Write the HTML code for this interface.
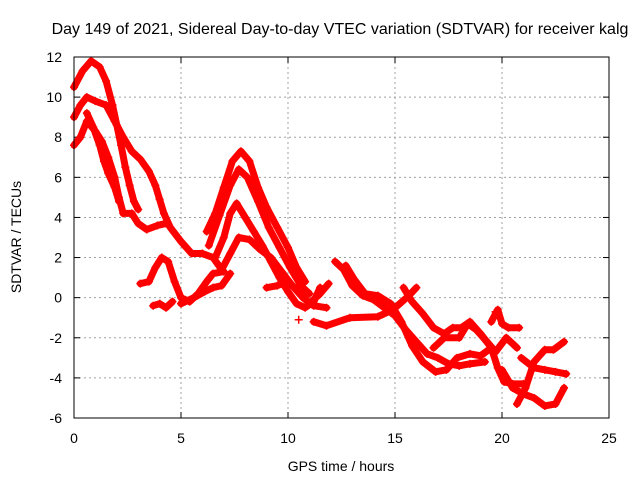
<!DOCTYPE html>
<html><head><meta charset="utf-8"><style>
body{margin:0;background:#fff}
svg text{font-family:"Liberation Sans",sans-serif;font-size:14px;fill:#000}
</style></head><body>
<svg id="chart" width="640" height="480" xmlns="http://www.w3.org/2000/svg">
<rect width="640" height="480" fill="#fff"/>
<text x="340" y="34" text-anchor="middle" style="font-size:16px">Day 149 of 2021, Sidereal Day-to-day VTEC variation (SDTVAR) for receiver kalg</text>
<text x="341" y="471" text-anchor="middle">GPS time / hours</text>
<text transform="translate(21,237) rotate(-90)" text-anchor="middle">SDTVAR / TECUs</text>
<g id="grid"></g><g id="ticks"></g><g id="marks"></g>
<rect x="74" y="57" width="535" height="361" fill="none" stroke="#000" stroke-width="1"/>
</svg>
<script>
const xTicks=[0,5,10,15,20,25];
const yTicks=[-6,-4,-2,0,2,4,6,8,10,12];
const trackA=[[0,10.5],[0.4,11.3],[0.8,11.8],[1.2,11.5],[1.5,10.8],[1.8,9.6],[2.0,8.6],[2.2,7.6],[2.4,6.5],[2.6,5.6],[2.8,4.8],[3.0,4.4]];
const trackB=[[0,9.0],[0.3,9.6],[0.6,10.0],[1.0,9.8],[1.5,9.6],[1.9,8.8],[2.3,8.0],[2.7,7.3],[3.1,6.9],[3.5,6.3],[3.8,5.6],[4.0,4.9],[4.2,4.2],[4.5,3.5],[5.0,2.8],[5.5,2.2],[6.0,2.2],[6.5,2.0],[6.9,1.4],[7.3,2.2],[7.7,3.0],[8.2,2.9],[8.7,2.4],[9.2,2.0],[9.7,1.3],[10.2,0.6],[10.7,0.0],[11.2,-0.4],[11.8,-0.5]];
const trackC=[[0,7.6],[0.3,8.0],[0.6,8.8],[1.0,8.3],[1.3,7.8],[1.6,7.0],[1.9,6.0],[2.1,5.0],[2.3,4.2],[2.7,4.2],[3.0,3.7],[3.4,3.4],[3.9,3.6],[4.3,3.7]];
const trackD=[[0.6,9.2],[0.9,8.5],[1.2,7.6],[1.4,6.8],[1.6,6.2],[1.9,5.5],[2.1,4.8]];
const trackE=[[6.2,3.3],[6.6,4.2],[7.0,5.5],[7.4,6.8],[7.8,7.3],[8.2,6.8],[8.6,5.5],[9.0,4.5],[9.5,3.5],[10.0,2.5],[10.4,1.5],[10.8,0.8]];
const trackF=[[6.3,2.6],[6.8,4.1],[7.3,5.6],[7.7,6.4],[8.1,6.0],[8.6,4.8],[9.1,3.5],[9.6,2.5],[10.1,1.5],[10.6,0.6],[11.0,0.2]];
const trackG=[[6.6,2.0],[7.0,3.0],[7.3,4.2],[7.6,4.7],[8.0,4.0],[8.4,3.3],[8.8,2.6],[9.2,1.8],[9.6,1.0],[10.0,0.3],[10.4,-0.3],[10.8,-0.5],[11.2,-0.2],[11.5,0.5]];
const trackH=[[3.1,0.7],[3.5,0.8],[3.8,1.5],[4.1,2.0],[4.4,1.8],[4.7,0.8],[5.0,0.0],[5.4,-0.2],[5.8,0.2],[6.2,0.8],[6.5,1.2],[7.0,1.3]];
const trackI=[[3.7,-0.4],[4.0,-0.3],[4.3,-0.5],[4.6,-0.2]];
const trackJ=[[5.0,-0.3],[5.6,0.0],[6.1,0.3],[6.5,0.5],[6.9,0.6],[7.3,1.2]];
const trackK=[[11.2,-1.2],[11.8,-1.4],[12.9,-1.0],[14.2,-0.95],[14.9,-0.6],[15.6,0.05],[16.0,0.5]];
const trackL=[[12.2,1.8],[12.6,1.4],[13.0,0.6],[13.5,0.1],[14.0,-0.1],[14.5,-0.5],[15.0,-0.9],[15.5,-1.6],[16.0,-2.2],[16.5,-2.8],[17.0,-3.0],[17.5,-3.3],[18.0,-3.4],[18.5,-3.3],[19.2,-3.2]];
const trackM=[[12.7,1.6],[13.1,0.9],[13.6,0.2],[14.2,0.1],[14.8,-0.3],[15.3,-1.2],[15.8,-2.4],[16.3,-3.2],[16.9,-3.7],[17.4,-3.6],[17.9,-3.0],[18.5,-2.8],[19.0,-2.9],[19.5,-2.5]];
const trackN=[[15.4,0.5],[15.8,-0.2],[16.3,-0.8],[16.8,-1.5],[17.3,-1.8],[17.7,-1.5],[18.1,-1.5],[18.5,-1.2],[19.0,-1.8],[19.5,-2.5],[19.8,-3.5],[20.1,-4.2],[20.5,-4.3],[21.0,-4.3]];
const trackO=[[16.8,-2.5],[17.3,-2.0],[18.0,-2.0],[18.4,-1.3],[18.8,-1.6],[19.3,-2.2],[19.7,-2.7],[20.2,-2.0],[20.7,-2.5]];
const trackP=[[19.5,-1.2],[19.8,-0.6],[20.0,-1.3],[20.3,-1.5],[20.8,-1.5]];
const trackQ=[[20.0,-3.6],[20.5,-4.5],[21.0,-4.8],[21.5,-5.0],[22.0,-5.4],[22.5,-5.3],[22.9,-4.5]];
const trackR=[[20.7,-5.3],[21.1,-4.5],[21.5,-3.2],[22.0,-2.6],[22.4,-2.6],[22.9,-2.2]];
const trackS=[[20.9,-3.0],[21.5,-3.5],[22.0,-3.6],[22.5,-3.7],[23.0,-3.8]];
const trackT=[[9.0,0.5],[9.5,0.6],[10.0,0.8],[10.5,0.3],[11.0,-0.3],[11.5,0.2],[11.9,0.7]];
const strays=[[10.5,-1.1],[19.7,-0.7]];
const tracks=[trackA,trackB,trackC,trackD,trackE,trackF,trackG,trackH,trackI,trackJ,trackK,trackL,trackM,trackN,trackO,trackP,trackQ,trackR,trackS,trackT];

const X0=74,X1=609,Y0=418,Y1=57,xmin=0,xmax=25,ymin=-6,ymax=12;
const xs=v=>X0+(v-xmin)/(xmax-xmin)*(X1-X0);
const ys=v=>Y0-(v-ymin)/(ymax-ymin)*(Y0-Y1);
const NS='http://www.w3.org/2000/svg';
function mk(tag,attrs,parent){const e=document.createElementNS(NS,tag);for(const k in attrs)e.setAttribute(k,attrs[k]);parent.appendChild(e);return e;}
const grid=document.getElementById('grid'),ticks=document.getElementById('ticks'),marks=document.getElementById('marks');
xTicks.forEach(t=>{
  const x=xs(t);
  if(t>xmin&&t<xmax){const g=mk('line',{x1:x,x2:x,y1:Y1,y2:Y0,stroke:'#a0a0a0','stroke-dasharray':'2,3'},grid);
  
  }
  mk('line',{x1:x,x2:x,y1:Y0,y2:Y0-6,stroke:'#000'},ticks);
  mk('line',{x1:x,x2:x,y1:Y1,y2:Y1+6,stroke:'#000'},ticks);
  const tx=mk('text',{x:x,y:Y0+25,'text-anchor':'middle'},ticks);tx.textContent=t;
  
  
});
yTicks.forEach(t=>{
  const y=ys(t);
  if(t>ymin&&t<ymax){const g=mk('line',{x1:X0,x2:X1,y1:y,y2:y,stroke:'#a0a0a0','stroke-dasharray':'2,3'},grid);
  
  }
  mk('line',{x1:X0,x2:X0+6,y1:y,y2:y,stroke:'#000'},ticks);
  mk('line',{x1:X1,x2:X1-6,y1:y,y2:y,stroke:'#000'},ticks);
  const tx=mk('text',{x:X0-12,y:y+5,'text-anchor':'end'},ticks);tx.textContent=t;
  
  
});
function plus(x,y,parent){mk('path',{d:`M${x-4},${y}h8M${x},${y-4}v8`,stroke:'#f00','stroke-width':1.5},parent);}
tracks.forEach((tr,i)=>{
  const g=mk('g',{},marks);
  
  
  mk('polyline',{points:tr.map(p=>xs(p[0])+','+ys(p[1])).join(' '),fill:'none',stroke:'#f00','stroke-width':7,'stroke-linejoin':'round','stroke-linecap':'round'},g);
  tr.forEach(p=>plus(xs(p[0]),ys(p[1]),g));
});
strays.forEach(p=>{const g=mk('g',{},marks);
  
  
  plus(xs(p[0]),ys(p[1]),g);});
</script>
</body></html>
